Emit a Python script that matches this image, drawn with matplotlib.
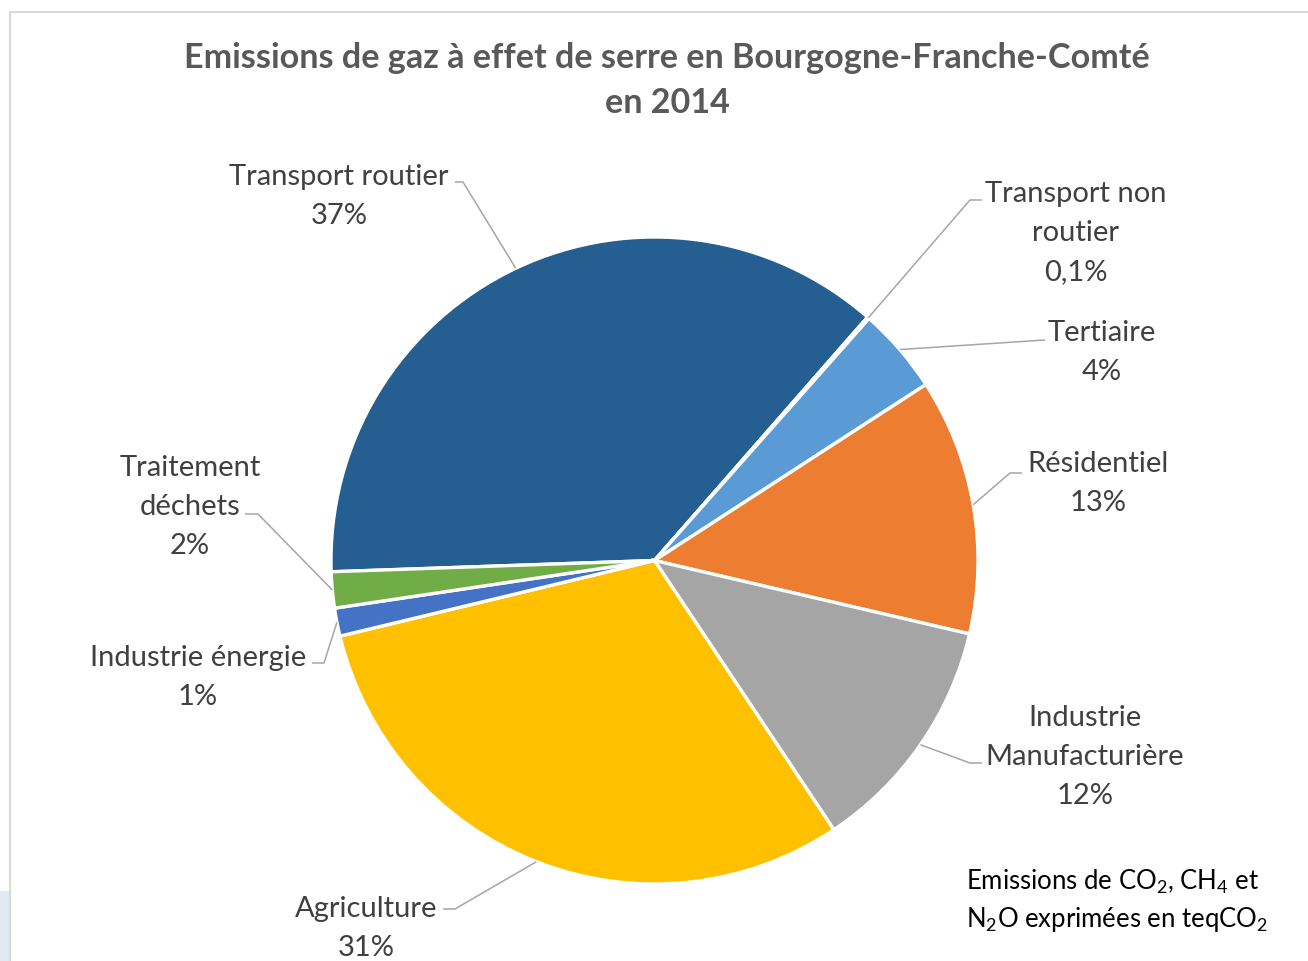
import numpy as np
import matplotlib.pyplot as plt
from matplotlib.lines import Line2D
from matplotlib.patches import Rectangle

W, H = 1308, 961

categories = ['Transport routier', 'Transport non\nroutier', 'Tertiaire', 'Résidentiel',
              'Industrie\nManufacturière', 'Agriculture', 'Industrie énergie',
              'Traitement\ndéchets']
values = [37.0, 0.1, 4.3, 12.8, 12.0, 30.6, 1.4, 1.8]
pct_labels = ['37%', '0,1%', '4%', '13%', '12%', '31%', '1%', '2%']
colors = ['#255E91', '#264478', '#5B9BD5', '#ED7D31', '#A5A5A5', '#FFC000', '#4472C4', '#70AD47']

# label layout in pixels (text center x, top line y, text-side point, elbow point)
label_pos = [(339, 177), (1076, 194), (1102, 333), (1098, 464),
             (1085, 718), (366, 909), (198, 658), (190, 468)]
leader_pts = [((455, 182), (463, 182)), ((982, 200), (970, 200)),
              ((1045, 340), (1045, 340)), ((1022, 473), (1010, 473)),
              ((982, 763), (970, 763)), ((443, 909), (455, 909)),
              ((312, 663), (324, 663)), ((245, 514), (258, 514))]

plt.rcParams['font.family'] = ['Lato', 'DejaVu Sans']
plt.rcParams['mathtext.default'] = 'regular'

fig = plt.figure(figsize=(W / 100, H / 100), dpi=100)
ax = fig.add_axes([0, 0, 1, 1])

def py(y):
    return H - y

cx, cy, r = 654.5, 560.5, 323.5
wedges, _ = ax.pie(values, colors=colors, startangle=182, counterclock=False,
                   center=(cx, py(cy)), radius=r,
                   wedgeprops=dict(edgecolor='white', linewidth=2.4))
ax.set_xlim(0, W)
ax.set_ylim(0, H)
ax.set_aspect('auto')
ax.axis('off')

line_h = 39
for w, name, pct, (tx, ty), (p0, p1) in zip(wedges, categories, pct_labels, label_pos, leader_pts):
    lines = name.split('\n') + [pct]
    for k, s in enumerate(lines):
        ax.text(tx, py(ty + k * line_h), s, ha='center', va='center',
                fontsize=21, color='#404040')
    mid = np.deg2rad((w.theta1 + w.theta2) / 2)
    rx, ry = cx + r * np.cos(mid), py(cy) + r * np.sin(mid)
    ax.plot([p0[0], p1[0], rx], [py(p0[1]), py(p1[1]), ry],
            color='#A6A6A6', lw=1.1, solid_capstyle='butt')

ax.text(667, py(58), 'Emissions de gaz à effet de serre en Bourgogne-Franche-Comté',
        ha='center', va='center', fontsize=24.6, fontweight='bold', color='#595959')
ax.text(667, py(103), 'en 2014', ha='center', va='center', fontsize=24.6,
        fontweight='bold', color='#595959')

ax.text(966, py(882), 'Emissions de CO$_2$, CH$_4$ et', ha='left', va='center',
        fontsize=18.5, color='black')
ax.text(966, py(919), 'N$_2$O exprimées en teqCO$_2$', ha='left', va='center',
        fontsize=18.5, color='black')

# chart frame and screenshot edge
fig.add_artist(Line2D([10 / W, 10 / W], [0, 1 - 12 / H], color='#D9D9D9', lw=1.5))
fig.add_artist(Line2D([10 / W, 1], [1 - 12 / H, 1 - 12 / H], color='#D9D9D9', lw=1.5))
fig.add_artist(Rectangle((0, 0), 9 / W, 70 / H, color='#E2E9F3', lw=0))

fig.savefig('out.png', dpi=100)
